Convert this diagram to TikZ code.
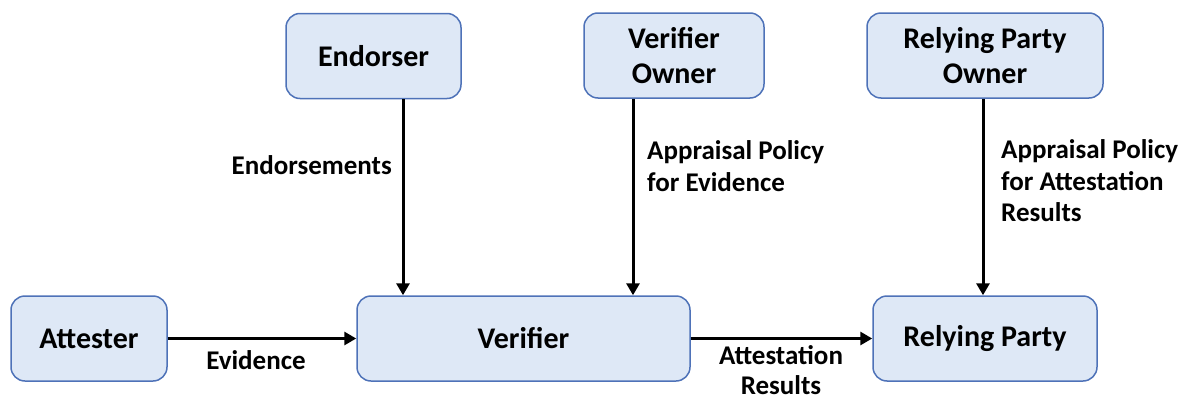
\documentclass[tikz,border=0pt]{standalone}
\usepackage{fontspec}
\setmainfont{Carlito}
\usetikzlibrary{arrows.meta}
\definecolor{boxfill}{RGB}{222,232,246}
\definecolor{boxline}{RGB}{78,114,184}
\begin{document}
\begin{tikzpicture}[x=1pt,y=-1pt,
  entity/.style={draw=boxline,line width=1.5pt,fill=boxfill,rounded corners=14pt,
    inner sep=0pt,align=center,font=\bfseries\fontsize{30}{35}\selectfont},
  flow/.style={line width=3pt,-{Triangle[length=12pt,width=13pt]}},
  lbl/.style={font=\bfseries\fontsize{27}{31.5}\selectfont,inner sep=0pt}]
\useasboundingbox (0,0) rectangle (1187,399);
% components
\node[entity,minimum width=156pt,minimum height=85pt] (att) at (89,338.5) {Attester};
\node[entity,minimum width=333pt,minimum height=85pt] (ver) at (523.5,338.5) {Verifier};
\node[entity,minimum width=224pt,minimum height=85pt] (rp) at (985,338.5) {Relying Party};
\node[entity,minimum width=175pt,minimum height=85pt] (end) at (373.5,56) {Endorser};
\node[entity,minimum width=180pt,minimum height=85pt] (vo) at (674,55.5) {Verifier\\Owner};
\node[entity,minimum width=236pt,minimum height=85pt] (rpo) at (985,55.5) {Relying Party\\Owner};
% vertical feeds into the verifier and relying party
\coordinate (e1) at (403,98);
\draw[flow] (end.south -| e1) -- (ver.north -| e1);
\coordinate (v1) at (633,98);
\draw[flow] (vo.south -| v1) -- (ver.north -| v1);
\coordinate (r1) at (983,98);
\draw[flow] (rpo.south -| r1) -- (rp.north -| r1);
% horizontal flows
\draw[flow] (att.east) -- (ver.west);
\draw[flow] (ver.east) -- (rp.west);
% labels
\node[lbl,anchor=east] (l1) at (392,165) {Endorsements};
\node[lbl,anchor=west,align=left] (l2) at (647,166) {Appraisal Policy\\for Evidence};
\node[lbl,anchor=west,align=left] (l3) at (1001,181) {Appraisal Policy\\for Attestation\\Results};
\node[lbl] (l4) at (256,360) {Evidence};
\node[lbl,align=center,font=\bfseries\fontsize{27}{29.5}\selectfont,anchor=base]
  (l5) at (781,394) {Attestation\\Results};
\end{tikzpicture}
\end{document}
